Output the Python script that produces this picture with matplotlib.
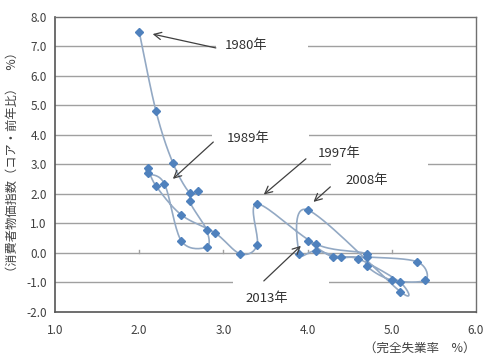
import matplotlib
matplotlib.use("Agg")
import matplotlib.pyplot as plt
from matplotlib.patches import Rectangle
import numpy as np

plt.rcParams['font.family'] = ['Noto Sans CJK JP', 'DejaVu Sans']

# 完全失業率 (%) と 消費者物価指数(コア・前年比 %) 1980-2013
years = list(range(1980, 2014))
unemployment = [2.0, 2.2, 2.4, 2.6, 2.7, 2.6, 2.8, 2.8, 2.5, 2.3,
                2.1, 2.1, 2.2, 2.5, 2.9, 3.2, 3.4, 3.4, 4.1, 4.7,
                4.7, 5.0, 5.4, 5.3, 4.7, 4.4, 4.1, 3.9, 4.0, 5.1,
                5.1, 4.6, 4.3, 4.0]
core_cpi = [7.5, 4.8, 3.05, 2.03, 2.1, 1.76, 0.78, 0.2, 0.41, 2.34,
            2.7, 2.88, 2.27, 1.29, 0.68, -0.03, 0.27, 1.66, 0.3, -0.03,
            -0.44, -0.92, -0.92, -0.3, -0.14, -0.14, 0.07, -0.03, 1.46, -1.31,
            -1.0, -0.2, -0.14, 0.41]

x_ticks = [1.0, 2.0, 3.0, 4.0, 5.0, 6.0]
y_ticks = [-2.0, -1.0, 0.0, 1.0, 2.0, 3.0, 4.0, 5.0, 6.0, 7.0, 8.0]

# 注記: (ラベル, 文字位置, 矢印の先, 矢印の元)
notes = [
    ("1980年", (3.27, 7.02), (2.16, 7.42), (2.91, 6.95)),
    ("1989年", (3.29, 3.88), (2.40, 2.51), (2.88, 3.76)),
    ("1997年", (4.37, 3.36), (3.48, 1.98), (3.98, 3.19)),
    ("2008年", (4.70, 2.44), (4.07, 1.73), (4.27, 2.24)),
    ("2013年", (3.51, -1.53), (3.92, 0.24), (3.48, -0.95)),
]
# 注記のテキストボックス (目盛線を隠す)
boxes = [(2.91, 6.6, 1.1, 0.8), (2.87, 3.55, 1.15, 0.75),
         (4.28, 2.6, 1.15, 0.85), (3.11, -1.8, 1.14, 1.0)]


def smooth_curve(xs, ys, n=20):
    # Excel風の滑らかな線 (Catmull-Rom -> Bezier)
    pts = np.column_stack([xs, ys])
    out = [pts[0]]
    for i in range(len(pts) - 1):
        p0 = pts[i - 1] if i > 0 else pts[i]
        p1 = pts[i]
        p2 = pts[i + 1]
        p3 = pts[i + 2] if i + 2 < len(pts) else pts[i + 1]
        c1 = p1 + (p2 - p0) / 6.0
        c2 = p2 - (p3 - p1) / 6.0
        t = np.linspace(0, 1, n)[1:, None]
        seg = ((1 - t) ** 3 * p1 + 3 * (1 - t) ** 2 * t * c1
               + 3 * (1 - t) * t ** 2 * c2 + t ** 3 * p2)
        out.extend(seg)
    out = np.array(out)
    return out[:, 0], out[:, 1]


fig = plt.figure(figsize=(5.0, 3.61), dpi=100)
ax = fig.add_axes([0.11, 0.136, 0.842, 0.817])

ax.set_xlim(1.0, 6.0)
ax.set_ylim(-2.0, 8.0)
ax.set_xticks(x_ticks)
ax.set_yticks(y_ticks)
ax.set_xticklabels([f"{v:.1f}" for v in x_ticks])
ax.set_yticklabels([f"{v:.1f}" for v in y_ticks])
ax.tick_params(length=0, labelsize=8.5, colors='#404040')
ax.tick_params(axis='x', pad=9)
ax.tick_params(axis='y', pad=6)

for y in y_ticks[1:-1]:
    ax.axhline(y, color='#a0a0a0', lw=1.0, zorder=1)
for xt in x_ticks[1:-1]:
    ax.plot([xt, xt], [0, 0.1], color='#a0a0a0', lw=1.0, zorder=1)

for bx, by, bw, bh in boxes:
    ax.add_patch(Rectangle((bx, by), bw, bh, fc='white', ec='none', zorder=2))

for side in ['left', 'bottom']:
    ax.spines[side].set_color('#555555')
    ax.spines[side].set_linewidth(1.2)
for side in ['top', 'right']:
    ax.spines[side].set_color('#707070')
    ax.spines[side].set_linewidth(1.0)

sx, sy = smooth_curve(unemployment, core_cpi)
ax.plot(sx, sy, color='#93a9c4', lw=1.2, zorder=3)
ax.plot(unemployment, core_cpi, linestyle='none', marker='D', ms=4.5,
        color='#4f81bd', mec='#4f81bd', zorder=4)

for label, txt_pos, tip, start in notes:
    ax.text(txt_pos[0], txt_pos[1], label, ha='center', va='center',
            fontsize=9.5, color='#303030', zorder=6)
    ax.annotate('', xy=tip, xytext=start,
                arrowprops=dict(arrowstyle='->', color='#404040', lw=0.9,
                                mutation_scale=13, shrinkA=0, shrinkB=0),
                zorder=6)

fig.text(0.025, 0.55, "（消費者物価指数（コア・前年比）　%）", rotation=90,
         ha='center', va='center', fontsize=8.8, color='#404040')
fig.text(0.84, 0.035, "（完全失業率　%）", ha='center', va='center',
         fontsize=9, color='#404040')

fig.savefig("out.png", dpi=100)
